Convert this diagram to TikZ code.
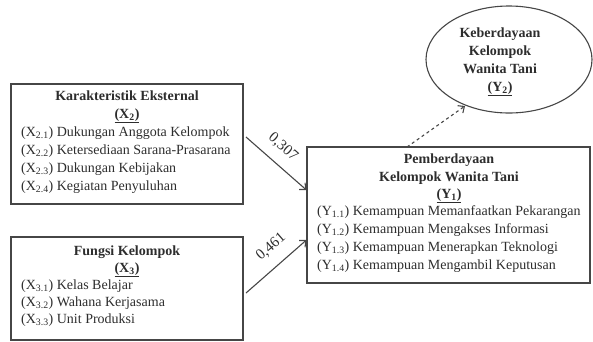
\documentclass[tikz,border=0pt]{standalone}
\usepackage{fontspec}
\setmainfont{Liberation Serif}
\usetikzlibrary{arrows.meta,shapes.geometric}
\definecolor{ink}{RGB}{45,45,45}
\definecolor{edge}{RGB}{70,70,70}
\tikzset{
  box/.style={draw=edge, line width=1.1pt, rectangle, inner sep=0pt},
  oval/.style={draw=edge, line width=1.1pt, ellipse, inner sep=0pt},
  ttl/.style={anchor=base, inner sep=0pt, text=ink, font=\fontsize{14}{17}\selectfont\bfseries},
  itm/.style={anchor=base west, inner sep=0pt, text=ink, font=\fontsize{14}{17}\selectfont},
  lbl/.style={inner sep=0pt, text=ink, font=\fontsize{15}{17}\selectfont},
  conn/.style={draw=edge, line width=1.1pt, -{Straight Barb[length=5pt,width=9pt]}},
}
\begin{document}
\begin{tikzpicture}[x=1pt,y=-1pt]
\useasboundingbox (0,0) rectangle (593,341);
% boxes
\node[box, minimum width=232pt, minimum height=120pt] (k1) at (127,144) {};
\node[box, minimum width=232pt, minimum height=103pt] (k2) at (127,288.5) {};
\node[box, minimum width=283pt, minimum height=136pt] (y1) at (448.5,215) {};
\node[oval, minimum width=166pt, minimum height=107pt] (y2) at (509,59.5) {};
% box 1 text
\node[ttl] (k1t1) at (127,100) {Karakteristik Eksternal};
\node[ttl] (k1t2) at (127,118) {\underline{(X\textsubscript{2})}};
\node[itm] (k1a) at (21,136) {(X\textsubscript{2.1}) Dukungan Anggota Kelompok};
\node[itm] (k1b) at (21,154) {(X\textsubscript{2.2}) Ketersediaan Sarana-Prasarana};
\node[itm] (k1c) at (21,172) {(X\textsubscript{2.3}) Dukungan Kebijakan};
\node[itm] (k1d) at (21,190) {(X\textsubscript{2.4}) Kegiatan Penyuluhan};
% box 2 text
\node[ttl] (k2t1) at (127,255) {Fungsi Kelompok};
\node[ttl] (k2t2) at (127,272) {\underline{(X\textsubscript{3})}};
\node[itm] (k2a) at (21,289) {(X\textsubscript{3.1}) Kelas Belajar};
\node[itm] (k2b) at (21,306) {(X\textsubscript{3.2}) Wahana Kerjasama};
\node[itm] (k2c) at (21,323) {(X\textsubscript{3.3}) Unit Produksi};
% Y1 text
\node[ttl] (y1t1) at (449,163) {Pemberdayaan};
\node[ttl] (y1t2) at (449,181) {Kelompok Wanita Tani};
\node[ttl] (y1t3) at (449,198) {\underline{(Y\textsubscript{1})}};
\node[itm] (y1a) at (317,215) {(Y\textsubscript{1.1}) Kemampuan Memanfaatkan Pekarangan};
\node[itm] (y1b) at (317,233) {(Y\textsubscript{1.2}) Kemampuan Mengakses Informasi};
\node[itm] (y1c) at (317,251) {(Y\textsubscript{1.3}) Kemampuan Menerapkan Teknologi};
\node[itm] (y1d) at (317,269) {(Y\textsubscript{1.4}) Kemampuan Mengambil Keputusan};
% Y2 text
\node[ttl] (y2t1) at (500,37) {Keberdayaan};
\node[ttl] (y2t2) at (500,55) {Kelompok};
\node[ttl] (y2t3) at (500,73) {Wanita Tani};
\node[ttl] (y2t4) at (500,91) {\underline{(Y\textsubscript{2})}};
% connectors
\coordinate (a1s) at (246,137);
\coordinate (a1e) at (y1.west |- 0,190);
\coordinate (a2s) at (246,293);
\coordinate (a2e) at (y1.west |- 0,240);
\coordinate (a3s) at (407,147);
\coordinate (a3e) at (465,106);
\draw[conn] (a1s) -- (a1e);
\draw[conn] (a2s) -- (a2e);
\draw[conn, dashed] (a3s) -- (a3e);
\node[lbl, rotate=-41] (l1) at (283,147) {0,307};
\node[lbl, rotate=41] (l2) at (271,247) {0,461};
\end{tikzpicture}
\end{document}
